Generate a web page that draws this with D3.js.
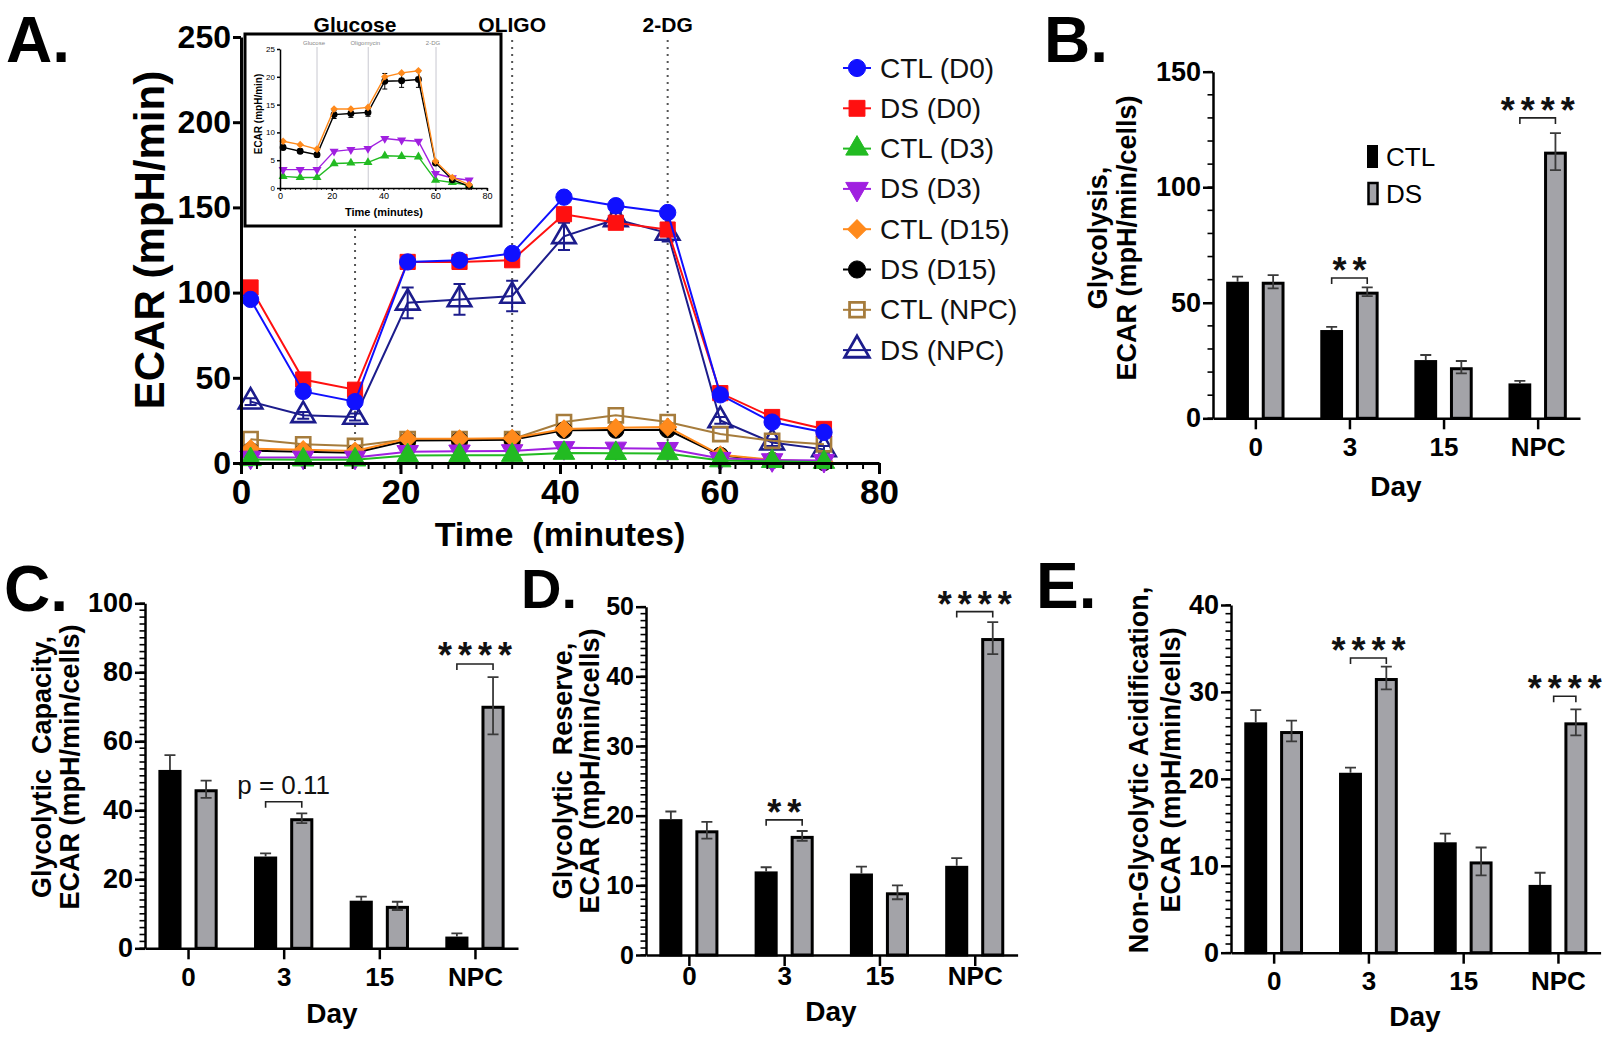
<!DOCTYPE html>
<html><head><meta charset="utf-8">
<script src="https://cdn.jsdelivr.net/npm/d3@7"></script>
<style>body{margin:0;background:#fff;} svg{display:block;}</style>
</head><body><svg id="c" width="1607" height="1040"></svg>
<script>
// ---------------- DATA ----------------
// Panel A (ECAR time course)
const timeMin = [1.2, 7.8, 14.3, 20.9, 27.4, 34.0, 40.5, 47.0, 53.5, 60.1, 66.6, 73.1];
const ctlD0  = [96, 42, 36, 118, 119, 123, 156, 151, 147, 40, 24, 18];
const dsD0   = [103, 49, 43, 118, 118, 119, 146, 141, 137, 41, 27, 20];
const ctlD3  = [2.1, 1.9, 1.9, 4.4, 4.5, 4.6, 5.8, 5.7, 5.6, 1.4, 1.0, 0.5];
const dsD3   = [3.3, 3.3, 3.3, 6.6, 6.9, 7.1, 8.9, 8.6, 8.4, 2.6, 1.8, 1.4];
const ctlD15 = [8.4, 7.8, 7.0, 14.2, 14.2, 14.5, 20.0, 20.7, 21.1, 4.8, 1.9, 0.6];
const dsD15  = [7.3, 6.6, 6.0, 13.2, 13.4, 13.6, 19.2, 19.3, 19.5, 4.5, 1.5, 0.3];
const ctlNPC = [14, 11, 10, 14, 14, 14, 24, 28, 24, 17, 13, 11];
const dsNPC  = [36, 28, 27, 94, 96, 98, 133, 143, 135, 25, 12, 8];
const dsNPCerr = [2, 2, 2, 9, 9, 9, 8, 4, 5, 2, 2, 2];
const dsD15err = [0.4, 0.4, 0.4, 0.7, 0.7, 0.7, 1.4, 1.2, 1.4, 0.3, 0.2, 0.2];
const seriesLabels = ["CTL (D0)", "DS (D0)", "CTL (D3)", "DS (D3)", "CTL (D15)", "DS (D15)", "CTL (NPC)", "DS (NPC)"];
const injections = ["Glucose", "OLIGO", "2-DG"];
const injectionTimes = [14.3, 34.0, 53.5];
const insetInjections = ["Glucose", "Oligomycin", "2-DG"];
const insetInjectionTimes = [14.3, 34.1, 60.3];
const xTicksA = [0, 20, 40, 60, 80];
const yTicksA = [0, 50, 100, 150, 200, 250];
const yTicksInset = [0, 5, 10, 15, 20, 25];

// Panels B-E (bars)
const days = ["0", "3", "15", "NPC"];
const groups = ["CTL", "DS"];
const glyCTL = [59.1, 38.2, 25.2, 15.1], glyCTLerr = [2.2, 1.4, 2.2, 1.1];
const glyDS  = [59.1, 54.8, 22.1, 115.4], glyDSerr = [2.9, 1.9, 2.7, 8.0];
const capCTL = [51.7, 26.6, 13.8, 3.4],  capCTLerr = [4.3, 0.9, 1.2, 0.9];
const capDS  = [46.1, 37.7, 12.3, 70.3], capDSerr = [2.5, 1.4, 1.2, 8.3];
const resCTL = [19.5, 12.0, 11.7, 12.8], resCTLerr = [1.1, 0.6, 1.0, 1.1];
const resDS  = [17.9, 17.1, 9.0, 45.5],  resDSerr = [1.2, 0.7, 1.0, 2.3];
const nonCTL = [26.5, 20.7, 12.7, 7.8],  nonCTLerr = [1.4, 0.6, 1.0, 1.4];
const nonDS  = [25.5, 31.6, 10.5, 26.5], nonDSerr = [1.2, 1.3, 1.6, 1.5];
const yTicksB = [0, 50, 100, 150], yTicksC = [0, 20, 40, 60, 80, 100], yTicksD = [0, 10, 20, 30, 40, 50], yTicksE = [0, 10, 20, 30, 40];
// significance: [day index, label, bracket level, label level]
const sigB = [[1, "**", 60.7, 67.2], [3, "****", 130, 136.4]];
const sigC = [[1, "p = 0.11", 42.5, 47.3], [3, "****", 82.4, 87]];
const sigD = [[1, "**", 19.4, 21.5], [3, "****", 49.3, 51.4]];
const sigE = [[1, "****", 33.9, 35.6], [3, "****", 29.5, 31.2]];

// ---------------- DRAWING ----------------
const FONT = "'Liberation Sans', Arial, Helvetica, sans-serif";
const svg = d3.select("#c");
svg.append("rect").attr("width", 1607).attr("height", 1040).attr("fill", "#fff");

function styleAxis(g, fs, sw) {
  g.attr("font-family", FONT).attr("font-size", fs).attr("font-weight", "bold");
  g.selectAll("path.domain").attr("stroke", "#000").attr("stroke-width", sw);
  g.selectAll(".tick line").attr("stroke", "#000").attr("stroke-width", sw);
  g.selectAll(".tick text").attr("fill", "#000");
}
function symbolPath(shape, size) {
  const t = {circle: d3.symbolCircle, square: d3.symbolSquare, triUp: d3.symbolTriangle,
             triDown: d3.symbolTriangle, diamond: d3.symbolSquare}[shape];
  return d3.symbol(t, size)();
}
function symbolRot(shape) { return shape === "triDown" ? 180 : (shape === "diamond" ? 45 : 0); }

// ===== Panel A =====
const xA = d3.scaleLinear().domain([0, 80]).range([241, 879]);
const yA = d3.scaleLinear().domain([0, 250]).range([463, 37]);

const seriesA = [
  {label: seriesLabels[0], v: ctlD0,  color: "#1010ff", shape: "circle",  size: 210, open: false},
  {label: seriesLabels[1], v: dsD0,   color: "#ff1010", shape: "square",  size: 230, open: false},
  {label: seriesLabels[2], v: ctlD3,  color: "#22bb22", shape: "triUp",   size: 200, open: false},
  {label: seriesLabels[3], v: dsD3,   color: "#a020e0", shape: "triDown", size: 200, open: false},
  {label: seriesLabels[4], v: ctlD15, color: "#ff8a1c", shape: "diamond", size: 160, open: false},
  {label: seriesLabels[5], v: dsD15,  color: "#000000", shape: "circle",  size: 210, open: false, err: dsD15err},
  {label: seriesLabels[6], v: ctlNPC, color: "#a67c3c", shape: "square",  size: 200, open: true},
  {label: seriesLabels[7], v: dsNPC,  color: "#1c1c8c", shape: "triUp",   size: 240, open: true, err: dsNPCerr}
];

// injection dotted lines + labels
injections.forEach((lab, i) => {
  const x = xA(injectionTimes[i]);
  svg.append("line").attr("x1", x).attr("x2", x).attr("y1", 40).attr("y2", yA(0))
    .attr("stroke", "#555").attr("stroke-width", 2).attr("stroke-dasharray", "2,5");
  svg.append("text").attr("x", x).attr("y", 32).attr("text-anchor", "middle")
    .attr("font-family", FONT).attr("font-weight", "bold").attr("font-size", 21).text(lab);
});

// series (drawn in reverse so CTL (D0) ends on top)
const lineA = d3.line().x((d, i) => xA(timeMin[i])).y(d => yA(d));
seriesA.slice().reverse().forEach(s => {
  const g = svg.append("g");
  g.append("path").datum(s.v).attr("d", lineA).attr("fill", "none")
    .attr("stroke", s.color).attr("stroke-width", 2);
  if (s.err) {
    s.v.forEach((v, i) => {
      const x = xA(timeMin[i]);
      g.append("path").attr("d", `M${x},${yA(v - s.err[i])}V${yA(v + s.err[i])}M${x - 6},${yA(v + s.err[i])}H${x + 6}M${x - 6},${yA(v - s.err[i])}H${x + 6}`)
        .attr("stroke", s.color).attr("stroke-width", 2).attr("fill", "none");
    });
  }
  g.selectAll("path.m").data(s.v).join("path").attr("class", "m")
    .attr("d", symbolPath(s.shape, s.size))
    .attr("transform", (d, i) => `translate(${xA(timeMin[i])},${yA(d)}) rotate(${symbolRot(s.shape)})`)
    .attr("fill", s.open ? "none" : s.color)
    .attr("stroke", s.color).attr("stroke-width", s.open ? 2.6 : 1);
});

// axes A
const gxA = svg.append("g").attr("transform", `translate(0,${yA(0)})`)
  .call(d3.axisBottom(xA).tickValues(xTicksA).tickSize(11).tickSizeOuter(0).tickPadding(5));
styleAxis(gxA, 35, 3);
svg.append("g").selectAll("line").data(d3.range(0, 81, 2)).join("line")
  .attr("x1", d => xA(d)).attr("x2", d => xA(d)).attr("y1", yA(0)).attr("y2", yA(0) + 6)
  .attr("stroke", "#000").attr("stroke-width", 2);
const gyA = svg.append("g").attr("transform", `translate(${xA(0)},0)`)
  .call(d3.axisLeft(yA).tickValues(yTicksA).tickSize(8).tickSizeOuter(0).tickPadding(2));
styleAxis(gyA, 32, 3);

svg.append("text").attr("transform", `translate(149,240) rotate(-90)`).attr("text-anchor", "middle")
  .attr("dominant-baseline", "central").attr("font-family", FONT).attr("font-weight", "bold")
  .attr("font-size", 42).text("ECAR (mpH/min)");
svg.append("text").attr("x", 560).attr("y", 546).attr("text-anchor", "middle").attr("xml:space", "preserve")
  .style("white-space", "pre").attr("font-family", FONT).attr("font-weight", "bold")
  .attr("font-size", 34).text("Time  (minutes)");

// legend A
seriesA.forEach((s, i) => {
  const y = 68 + i * 40.3, x = 857;
  svg.append("line").attr("x1", x - 14).attr("x2", x + 14).attr("y1", y).attr("y2", y)
    .attr("stroke", s.color).attr("stroke-width", 2);
  svg.append("path").attr("d", symbolPath(s.shape, s.size * 1.1))
    .attr("transform", `translate(${x},${y}) rotate(${symbolRot(s.shape)})`)
    .attr("fill", s.open ? "none" : s.color).attr("stroke", s.color).attr("stroke-width", s.open ? 2.8 : 1);
  svg.append("text").attr("x", 880).attr("y", y).attr("dominant-baseline", "central")
    .attr("font-family", FONT).attr("font-size", 28).attr("fill", "#111").text(s.label);
});

// inset
svg.append("rect").attr("x", 245).attr("y", 34).attr("width", 256).attr("height", 192)
  .attr("fill", "#fff").attr("stroke", "#000").attr("stroke-width", 3);
const xI = d3.scaleLinear().domain([0, 80]).range([280, 487]);
const yI = d3.scaleLinear().domain([0, 25]).range([188, 49]);
insetInjections.forEach((lab, i) => {
  const x = xI(insetInjectionTimes[i]);
  svg.append("line").attr("x1", x).attr("x2", x).attr("y1", 47).attr("y2", yI(0))
    .attr("stroke", "#c8c8d0").attr("stroke-width", 1);
  svg.append("text").attr("x", x - 3).attr("y", 45).attr("text-anchor", "middle")
    .attr("font-family", FONT).attr("font-size", 6).attr("fill", "#888").text(lab);
});
const insetSeries = [seriesA[2], seriesA[3], seriesA[5], seriesA[4]];
const lineI = d3.line().x((d, i) => xI(timeMin[i])).y(d => yI(d));
insetSeries.forEach(s => {
  svg.append("path").datum(s.v).attr("d", lineI).attr("fill", "none")
    .attr("stroke", s.color).attr("stroke-width", 1.4);
  if (s.err) {
    s.v.forEach((v, i) => {
      const x = xI(timeMin[i]);
      svg.append("path").attr("d", `M${x},${yI(v - s.err[i])}V${yI(v + s.err[i])}M${x - 2.5},${yI(v + s.err[i])}H${x + 2.5}M${x - 2.5},${yI(v - s.err[i])}H${x + 2.5}`)
        .attr("stroke", s.color).attr("stroke-width", 1).attr("fill", "none");
    });
  }
  svg.append("g").selectAll("path").data(s.v).join("path")
    .attr("d", symbolPath(s.shape, s.size * 0.18))
    .attr("transform", (d, i) => `translate(${xI(timeMin[i])},${yI(d)}) rotate(${symbolRot(s.shape)})`)
    .attr("fill", s.color);
});
const gxI = svg.append("g").attr("transform", `translate(0,${yI(0)})`)
  .call(d3.axisBottom(xI).tickValues(xTicksA).tickSize(3).tickSizeOuter(0).tickPadding(2));
styleAxis(gxI, 9, 1.5);
gxI.selectAll(".tick text").attr("font-weight", "normal");
svg.append("g").selectAll("line").data(d3.range(0, 81, 2)).join("line")
  .attr("x1", d => xI(d)).attr("x2", d => xI(d)).attr("y1", yI(0)).attr("y2", yI(0) + 2)
  .attr("stroke", "#000").attr("stroke-width", 0.8);
const gyI = svg.append("g").attr("transform", `translate(${xI(0)},0)`)
  .call(d3.axisLeft(yI).tickValues(yTicksInset).tickSize(3).tickSizeOuter(0).tickPadding(2));
styleAxis(gyI, 8, 1.5);
gyI.selectAll(".tick text").attr("font-weight", "normal");
svg.append("text").attr("transform", `translate(258,114) rotate(-90)`).attr("text-anchor", "middle")
  .attr("dominant-baseline", "central").attr("font-family", FONT).attr("font-weight", "bold")
  .attr("font-size", 10).text("ECAR (mpH/min)");
svg.append("text").attr("x", 384).attr("y", 216).attr("text-anchor", "middle")
  .attr("font-family", FONT).attr("font-weight", "bold").attr("font-size", 11).text("Time (minutes)");

// ===== Bar panels =====
function barPanel(c) {
  const x = d3.scalePoint().domain(days).range([c.x0, c.x1]).padding(0.45);
  const step = x.step();
  const sub = d3.scaleBand().domain(groups).range([-0.31 * step, 0.31 * step]).paddingInner(0.36);
  const y = d3.scaleLinear().domain([0, c.yMax]).range([c.yB, c.yT]);
  const g = svg.append("g");
  const vals = [c.ctl, c.ds], errs = [c.ctlErr, c.dsErr];
  groups.forEach((grp, gi) => {
    days.forEach((d, i) => {
      const bx = x(d) + sub(grp), bw = sub.bandwidth();
      g.append("rect").attr("x", bx + 1.5).attr("y", y(vals[gi][i]) + 1.5)
        .attr("width", bw - 3).attr("height", y(0) - y(vals[gi][i]) - 1.5)
        .attr("fill", gi === 0 ? "#000" : "#a3a3a8").attr("stroke", "#000").attr("stroke-width", 3);
      const cx = bx + bw / 2, v = vals[gi][i], e = errs[gi][i];
      const lo = gi === 0 ? v : v - e;
      g.append("path").attr("d", `M${cx},${y(lo)}V${y(v + e)}M${cx - 5.5},${y(v + e)}H${cx + 5.5}` + (gi === 1 ? `M${cx - 5.5},${y(v - e)}H${cx + 5.5}` : ""))
        .attr("stroke", "#3a3a3a").attr("stroke-width", 1.8).attr("fill", "none");
    });
  });
  // axes
  const gx = g.append("g").attr("transform", `translate(0,${c.yB})`)
    .call(d3.axisBottom(x).tickSize(11).tickSizeOuter(0).tickPadding(c.xPad));
  styleAxis(gx, 26, 2.5);
  const gy = g.append("g").attr("transform", `translate(${c.x0},0)`)
    .call(d3.axisLeft(y).tickValues(c.yTicks).tickSize(10).tickSizeOuter(0).tickPadding(2));
  styleAxis(gy, c.yfs || 27, 2.5);
  g.append("g").selectAll("line").data(d3.range(0, c.yMax + 1e-9, c.minor)).join("line")
    .attr("x1", c.x0).attr("x2", c.x0 - 5.5).attr("y1", d => y(d)).attr("y2", d => y(d))
    .attr("stroke", "#000").attr("stroke-width", 1.6);
  // titles
  g.append("text").attr("x", c.dayX).attr("y", c.dayY).attr("text-anchor", "middle").attr("dominant-baseline", "central")
    .attr("font-family", FONT).attr("font-weight", "bold").attr("font-size", 28).text("Day");
  [c.t1, c.t2].forEach((t, k) => {
    g.append("text").attr("transform", `translate(${k ? c.tx2 : c.tx1},${c.ty}) rotate(-90)`)
      .attr("text-anchor", "middle").attr("dominant-baseline", "central").style("white-space", "pre")
      .attr("font-family", FONT).attr("font-weight", "bold").attr("font-size", c.tfs || 27).text(t);
  });
  // significance
  c.sig.forEach(([i, lab, bl, tl]) => {
    const xa = x(days[i]) + sub("CTL") + sub.bandwidth() / 2, xb = x(days[i]) + sub("DS") + sub.bandwidth() / 2;
    const xs = (c.bracketStart && c.bracketStart[i] !== undefined) ? xa + (xb - xa) * c.bracketStart[i] : xa;
    g.append("path").attr("d", `M${xs},${y(bl) + 6}V${y(bl)}H${xb}V${y(bl) + 6}`)
      .attr("stroke", "#222").attr("stroke-width", 1.6).attr("fill", "none");
    const star = lab.startsWith("*");
    g.append("text").attr("x", (xs + xb) / 2 + (star ? 3 : 0)).attr("y", y(tl) + (star ? 20 : 9)).attr("text-anchor", "middle")
      .attr("font-family", FONT).attr("font-weight", star ? "bold" : "normal").attr("font-size", star ? 36 : 26)
      .attr("letter-spacing", star ? 6 : 0).attr("fill", "#111").text(lab);
  });
  // panel letter
  g.append("text").attr("x", c.lx).attr("y", c.ly).attr("font-family", FONT).attr("font-weight", "bold")
    .attr("font-size", c.lfs || 64).text(c.letter);
  return {x, sub, y};
}

barPanel({letter: "B.", lx: 1044, ly: 62, x0: 1213, x1: 1580, yB: 418.3, yT: 71.7, yMax: 150, yTicks: yTicksB, minor: 10,
  ctl: glyCTL, ctlErr: glyCTLerr, ds: glyDS, dsErr: glyDSerr, xPad: 8, dayX: 1396, dayY: 486,
  t1: "Glycolysis,", t2: "ECAR (mpH/min/cells)", tx1: 1098, tx2: 1127, ty: 238, sig: sigB});
barPanel({letter: "C.", lx: 4, ly: 611, x0: 145, x1: 518, yB: 948.3, yT: 603.3, yMax: 100, yTicks: yTicksC, minor: 2,
  ctl: capCTL, ctlErr: capCTLerr, ds: capDS, dsErr: capDSerr, xPad: 8, dayX: 332, dayY: 1013,
  t1: "Glycolytic  Capacity,", t2: "ECAR (mpH/min/cells)", tx1: 42, tx2: 70, ty: 767, sig: sigC});
barPanel({letter: "D.", lx: 521, ly: 608, lfs: 56, x0: 646, x1: 1017.6, yB: 955, yT: 606.7, yMax: 50, yTicks: yTicksD, minor: 1,
  ctl: resCTL, ctlErr: resCTLerr, ds: resDS, dsErr: resDSerr, xPad: 1, dayX: 831, dayY: 1011, yfs: 25,
  t1: "Glycolytic  Reserve,", t2: "ECAR (mpH/min/cells)", tx1: 563, tx2: 590, ty: 771, sig: sigD});
barPanel({letter: "E.", lx: 1036, ly: 608, x0: 1231, x1: 1600.6, yB: 952.7, yT: 605, yMax: 40, yTicks: yTicksE, minor: 1,
  ctl: nonCTL, ctlErr: nonCTLerr, ds: nonDS, dsErr: nonDSerr, xPad: 8, dayX: 1415, dayY: 1016,
  t1: "Non-Glycolytic Acidification,", t2: "ECAR (mpH/min/cells)", tx1: 1139, tx2: 1171, ty: 770, sig: sigE,
  bracketStart: {3: 0.38}});

// Panel A letter
svg.append("text").attr("x", 6).attr("y", 62).attr("font-family", FONT).attr("font-weight", "bold")
  .attr("font-size", 64).text("A.");

// B legend
svg.append("rect").attr("x", 1367).attr("y", 145).attr("width", 11).attr("height", 23).attr("fill", "#000");
svg.append("rect").attr("x", 1368.5).attr("y", 183).attr("width", 9).attr("height", 21).attr("fill", "#a3a3a8")
  .attr("stroke", "#000").attr("stroke-width", 2.5);
svg.append("text").attr("x", 1386).attr("y", 157).attr("dominant-baseline", "central")
  .attr("font-family", FONT).attr("font-size", 26).text(groups[0]);
svg.append("text").attr("x", 1386).attr("y", 194).attr("dominant-baseline", "central")
  .attr("font-family", FONT).attr("font-size", 26).text(groups[1]);
</script>
</body></html>
